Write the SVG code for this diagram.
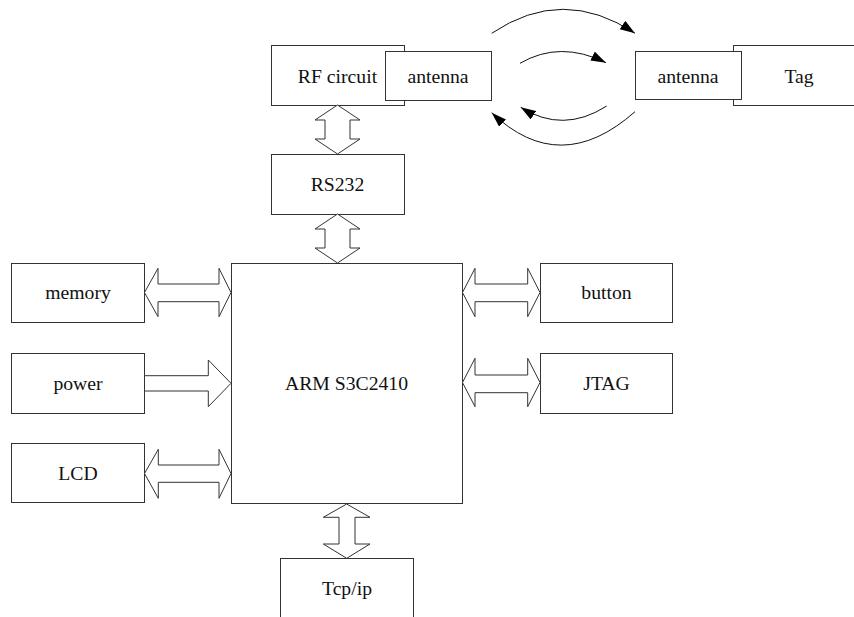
<svg xmlns="http://www.w3.org/2000/svg" width="854" height="617" viewBox="0 0 854 617">
<style>
.box{fill:#fff;stroke:#333;stroke-width:1}
.blk{fill:#fff;stroke:#333;stroke-width:1;stroke-linejoin:miter}
.arc{fill:none;stroke:#111;stroke-width:1}
text{font-family:"Liberation Serif","Times New Roman",serif;font-size:19.7px;fill:#111;text-anchor:middle}
</style>
<defs>
<marker id="ah" markerUnits="userSpaceOnUse" markerWidth="16" markerHeight="11" refX="15" refY="5" orient="auto">
<path d="M0,0 L15,5 L0,10 z" fill="#000"/>
</marker>
</defs>
<rect width="854" height="617" fill="#fff"/>
<g id="rf-circuit"><rect class="box" x="271.5" y="45.5" width="133" height="60"/><text x="337.5" y="83">RF circuit</text></g>
<g id="antenna-left"><rect class="box" x="385.5" y="51.5" width="106" height="49"/><text x="438" y="83">antenna</text></g>
<g id="tag"><rect class="box" x="733.5" y="45.5" width="130" height="60"/><text x="799" y="83">Tag</text></g>
<g id="antenna-right"><rect class="box" x="635.5" y="51.5" width="106" height="48"/><text x="688" y="83">antenna</text></g>
<g id="rs232"><rect class="box" x="271.5" y="154.5" width="133" height="60"/><text x="337.5" y="191">RS232</text></g>
<g id="arm"><rect class="box" x="231.5" y="263.5" width="231" height="240"/><text x="346.5" y="390">ARM S3C2410</text></g>
<g id="memory"><rect class="box" x="11.5" y="263.5" width="133" height="59"/><text x="78" y="299">memory</text></g>
<g id="power"><rect class="box" x="11.5" y="353.5" width="133" height="60"/><text x="78" y="390">power</text></g>
<g id="lcd"><rect class="box" x="11.5" y="443.5" width="133" height="59"/><text x="78" y="480">LCD</text></g>
<g id="button"><rect class="box" x="540.5" y="263.5" width="132" height="59"/><text x="606.5" y="299">button</text></g>
<g id="jtag"><rect class="box" x="540.5" y="353.5" width="132" height="60"/><text x="606.5" y="390">JTAG</text></g>
<g id="tcpip"><rect class="box" x="280.5" y="558.5" width="133" height="70"/><text x="347" y="595">Tcp/ip</text></g>
<g id="connectors">
<polygon class="blk" points="337.5,105 360,120 350,120 350,139 360,139 337.5,154 315,139 325,139 325,120 315,120"/>
<polygon class="blk" points="337.5,214 360,229 350,229 350,248 360,248 337.5,263 315,248 325,248 325,229 315,229"/>
<polygon class="blk" points="346.7,504 370,517.3 355,517.3 355,544 370,544 346.7,558.3 323.3,544 339,544 339,517.3 323.3,517.3"/>
<polygon class="blk" points="144.5,292.5 158,268.3 158,284 219,284 219,268.3 231,292.5 219,316.7 219,301.7 158,301.7 158,316.7"/>
<polygon class="blk" points="144.5,375.7 208.3,375.7 208.3,360 231,383.3 208.3,406.7 208.3,391 144.5,391"/>
<polygon class="blk" points="144.5,473.5 158.3,449.3 158.3,465 219,465 219,449.3 231,473.5 219,498.3 219,482.3 158.3,482.3 158.3,498.3"/>
<polygon class="blk" points="462.5,292.5 475,268.3 475,284 527.7,284 527.7,268.3 540,292.5 527.7,316.7 527.7,301.7 475,301.7 475,316.7"/>
<polygon class="blk" points="462.5,382.5 475,358.3 475,375 527.7,375 527.7,358.3 540,382.5 527.7,406.7 527.7,392.7 475,392.7 475,406.7"/>
<path class="arc" d="M491.7,33.3 Q563,-14.7 635,33.3" marker-end="url(#ah)"/>
<path class="arc" d="M520,63.3 Q560,40 606,62.7" marker-end="url(#ah)"/>
<path class="arc" d="M606.7,106 Q563,134 520.7,107.3" marker-end="url(#ah)"/>
<path class="arc" d="M635,111.7 Q560,178 491.7,112.7" marker-end="url(#ah)"/>
</g>
</svg>
